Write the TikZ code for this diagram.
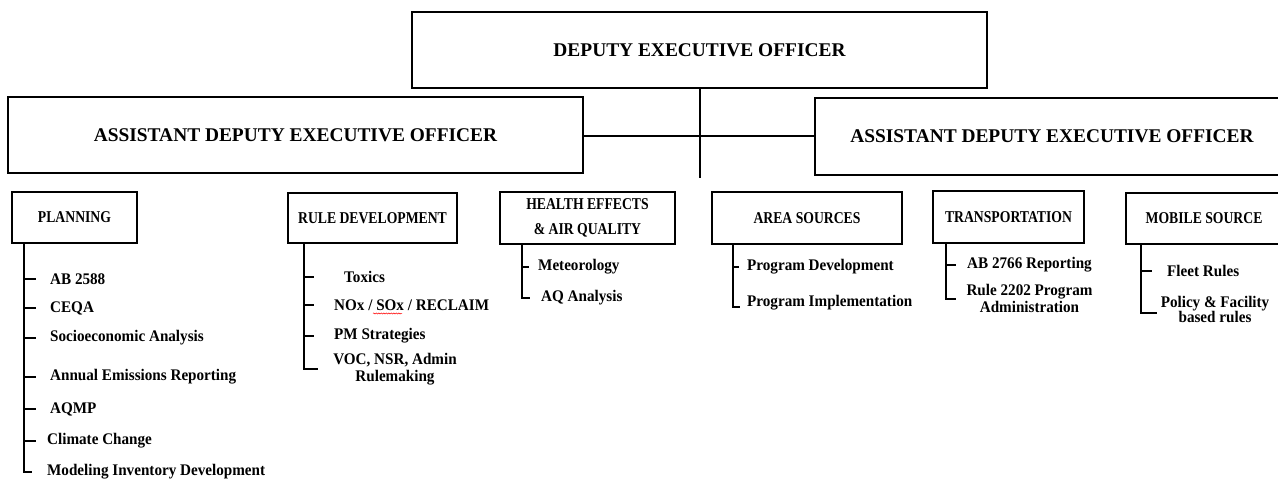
\documentclass[tikz,border=0pt]{standalone}
\usepackage{fontspec}
\setmainfont{Liberation Serif}
\newfontfamily\lblfont[FakeStretch=0.83]{Liberation Serif}
\newfontfamily\itmfont[FakeStretch=0.935]{Liberation Serif}
\usetikzlibrary{calc,decorations.pathmorphing}
\begin{document}
\begin{tikzpicture}[x=1pt,y=-1pt,
  box/.style={draw=black, line width=2pt, inner sep=0pt, align=center, font=\lblfont\bfseries\fontsize{16.5}{25}\selectfont},
  bigbox/.style={box, font=\bfseries\fontsize{19.4}{22}\selectfont},
  item/.style={inner sep=0pt, anchor=west, font=\itmfont\bfseries\fontsize{16.2}{17}\selectfont},
  itemtwo/.style={inner sep=0pt, align=center, font=\itmfont\bfseries\fontsize{16.2}{17}\selectfont},
  link/.style={line width=1.6pt}]
\useasboundingbox (0,0) rectangle (1278,481);

% top level
\node[bigbox, minimum width=575pt, minimum height=76pt] (deo) at (699.5,50) {DEPUTY EXECUTIVE OFFICER};
\node[bigbox, minimum width=575pt, minimum height=76pt] (adl) at (295.5,135) {ASSISTANT DEPUTY EXECUTIVE OFFICER};
\node[bigbox, minimum width=474pt, minimum height=77pt] (adr) at (1052,136.5) {ASSISTANT DEPUTY EXECUTIVE OFFICER};
\coordinate (vend) at (700,178);
\coordinate (hj) at (700,136);
\draw[link] (deo.south -| vend) -- (vend);
\draw[link] (adl.east |- hj) -- (adr.west |- hj);

% division boxes
\node[box, minimum width=125pt, minimum height=51pt] (plan) at (74.5,217.5) {PLANNING};
\node[box, minimum width=169pt, minimum height=50pt] (rule) at (372.5,218) {RULE DEVELOPMENT};
\node[box, minimum width=175pt, minimum height=52pt] (health) at (587.5,218) {HEALTH EFFECTS\\\& AIR QUALITY};
\node[box, minimum width=190pt, minimum height=52pt] (area) at (807,218) {AREA SOURCES};
\node[box, minimum width=151pt, minimum height=52pt] (trans) at (1008.5,217) {TRANSPORTATION};
\node[box, minimum width=156pt, minimum height=51pt] (mob) at (1204,218.5) {MOBILE SOURCE};

% planning
\path (plan.south west) ++(13,0) coordinate (ptop);
\node[item] (ab) at (50,279) {AB 2588};
\node[item] (ceqa) at (50,308) {CEQA};
\node[item] (socio) at (50,338) {Socioeconomic Analysis};
\node[item] (annual) at (50,377) {Annual Emissions Reporting};
\node[item] (aqmp) at (50,409) {AQMP};
\node[item] (climate) at (47,441) {Climate Change};
\node[item] (model) at (47,472) {Modeling Inventory Development};
\draw[link] (ptop) |- ($(model.west)+(-15,0)$);
\foreach \n in {ab,ceqa,socio,annual,aqmp,climate}
  \draw[link] (ptop |- \n.west) -- ++(12,0);

% rule development
\path (rule.south west) ++(17,0) coordinate (rtop);
\node[item] (tox) at (344,277) {Toxics};
\node[item] (nox) at (334,305) {NOx / SOx / RECLAIM};
\node[item] (pm) at (334,336) {PM Strategies};
\node[itemtwo] (voc) at (395,369) {VOC, NSR, Admin\\Rulemaking};
\draw[link] (rtop) |- ($(voc.west)+(-15,0)$);
\foreach \n in {tox,nox,pm}
  \draw[link] (rtop |- \n.west) -- ++(10,0);
\draw[red, line width=0.5pt, decorate, decoration={snake, amplitude=0.6pt, segment length=2.5pt}] (373,313.5) -- (402,313.5);

% health effects
\path (health.south west) ++(23,0) coordinate (htop);
\node[item] (met) at (538,267) {Meteorology};
\node[item] (aqa) at (541,298) {AQ Analysis};
\draw[link] (htop |- met.west) -- ++(7,0);
\draw[link] (htop) |- ($(aqa.west)+(-11,0)$);

% area sources
\path (area.south west) ++(22,0) coordinate (atop);
\node[item] (pd) at (747,267) {Program Development};
\node[item] (pi) at (747,303) {Program Implementation};
\draw[link] (atop |- pd.west) -- ++(6,0);
\draw[link] (atop) |- ($(pi.west)+(-7,4)$);

% transportation
\path (trans.south west) ++(14,0) coordinate (ttop);
\node[item] (abr) at (967,265) {AB 2766 Reporting};
\node[itemtwo] (r2202) at (1029.5,298.5) {Rule 2202 Program\\Administration};
\draw[link] (ttop |- abr.west) -- ++(10,0);
\draw[link] (ttop) |- ($(r2202.west)+(-10,0.5)$);

% mobile source
\path (mob.south west) ++(16,0) coordinate (mtop);
\node[item] (fleet) at (1167,271) {Fleet Rules};
\node[itemtwo, font=\itmfont\bfseries\fontsize{16.2}{15.5}\selectfont] (pol) at (1215,309.5) {Policy \& Facility\\based rules};
\draw[link] (mtop |- fleet.west) -- ++(11,0);
\draw[link] (mtop) |- ($(pol.west)+(-4,3.5)$);
\end{tikzpicture}
\end{document}
